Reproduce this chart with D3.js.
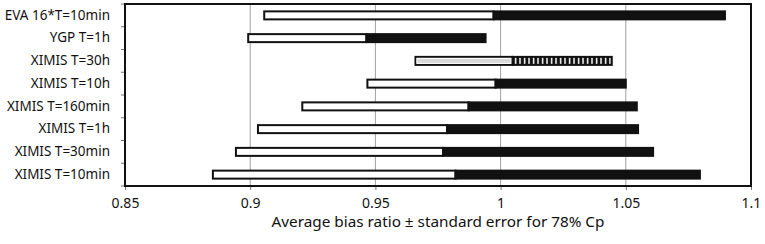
<!DOCTYPE html>
<html>
<head>
<meta charset="utf-8">
<script src="https://cdn.jsdelivr.net/npm/d3@7"></script>
<style>
  body { margin: 0; background: #fff; }
  text { font-family: "Noto Sans", "Open Sans", sans-serif; fill: #111; }
</style>
</head>
<body>
<div id="chart"></div>
<script>
// categories top to bottom
const categories = ["EVA 16*T=10min", "YGP T=1h", "XIMIS T=30h", "XIMIS T=10h",
  "XIMIS T=160min", "XIMIS T=1h", "XIMIS T=30min", "XIMIS T=10min"];
// mean - SE, mean, mean + SE
const lower = [0.9056, 0.8992, 0.9660, 0.9468, 0.9208, 0.9031, 0.8943, 0.8851];
const mean  = [0.9972, 0.9464, 1.0048, 0.9980, 0.9872, 0.9786, 0.9770, 0.9820];
const upper = [1.0896, 0.9940, 1.0444, 1.0500, 1.0544, 1.0549, 1.0609, 1.0796];
const xTicks = [0.85, 0.9, 0.95, 1, 1.05, 1.1];
const hatched = "XIMIS T=30h";

const width = 765, height = 244;
const m = {left: 125, right: 14, top: 4, bottom: 58};

const svg = d3.select("#chart").append("svg")
  .attr("width", width).attr("height", height);

const defs = svg.append("defs");
const pat = defs.append("pattern")
  .attr("id", "hatch").attr("patternUnits", "userSpaceOnUse")
  .attr("width", 4.5).attr("height", 10);
pat.append("rect").attr("width", 4.5).attr("height", 10).attr("fill", "#111");
pat.append("rect").attr("x", 1.8).attr("width", 1.5).attr("height", 10).attr("fill", "#fff");

const x = d3.scaleLinear().domain([0.85, 1.1]).range([m.left, width - m.right]);
const y = d3.scaleBand().domain(categories).range([m.top, height - m.bottom]);

// gridlines
svg.append("g").selectAll("line")
  .data(xTicks.slice(1, -1))
  .join("line")
    .attr("x1", d => x(d)).attr("x2", d => x(d))
    .attr("y1", m.top).attr("y2", height - m.bottom)
    .attr("stroke", "#a0a0a0").attr("stroke-width", 1);

// x axis
const xAxis = svg.append("g")
  .attr("transform", `translate(0,${height - m.bottom})`)
  .call(d3.axisBottom(x).tickValues(xTicks).tickFormat(d3.format("")).tickSize(4).tickPadding(8));
xAxis.select(".domain").remove();
xAxis.selectAll("line").attr("stroke", "#777");
xAxis.selectAll("text").attr("font-size", 14).attr("font-family", null);

// y axis
const yAxis = svg.append("g")
  .attr("transform", `translate(${m.left},0)`)
  .call(d3.axisLeft(y).tickSize(0).tickPadding(15));
yAxis.select(".domain").remove();
yAxis.selectAll("text").attr("font-size", 13.5).attr("font-family", null);

// small y tick marks at band edges
svg.append("g").selectAll("line")
  .data(d3.range(categories.length + 1))
  .join("line")
    .attr("x1", m.left - 4).attr("x2", m.left)
    .attr("y1", i => m.top + i * y.step()).attr("y2", i => m.top + i * y.step())
    .attr("stroke", "#777");

// bars
const bh = 8;
const rows = svg.append("g").selectAll("g")
  .data(categories)
  .join("g")
    .attr("transform", d => `translate(0,${y(d) + y.bandwidth() / 2 - bh / 2})`);

rows.append("rect")
  .attr("x", (d, i) => x(lower[i]))
  .attr("width", (d, i) => x(mean[i]) - x(lower[i]))
  .attr("height", bh)
  .attr("fill", d => d === hatched ? "#d9d9d9" : "#fff")
  .attr("stroke", "#111").attr("stroke-width", 2);

// white inner edge of the grey segment
rows.filter(d => d === hatched).append("rect")
  .attr("x", (d, i) => x(lower[categories.indexOf(d)]) + 1.5)
  .attr("y", 1.5)
  .attr("width", d => x(mean[categories.indexOf(d)]) - x(lower[categories.indexOf(d)]) - 3)
  .attr("height", bh - 3)
  .attr("fill", "none").attr("stroke", "#fff").attr("stroke-width", 1);

rows.append("rect")
  .attr("x", (d, i) => x(mean[i]))
  .attr("width", (d, i) => x(upper[i]) - x(mean[i]))
  .attr("height", bh)
  .attr("fill", d => d === hatched ? "url(#hatch)" : "#111")
  .attr("stroke", "#111").attr("stroke-width", 2);

// plot frame
svg.append("rect")
  .attr("x", m.left).attr("y", m.top)
  .attr("width", width - m.left - m.right).attr("height", height - m.top - m.bottom)
  .attr("fill", "none").attr("stroke", "#111").attr("stroke-width", 2);

// axis title
svg.append("text")
  .attr("x", (m.left + width - m.right) / 2).attr("y", 227)
  .attr("text-anchor", "middle").attr("font-size", 15.3)
  .text("Average bias ratio \u00b1 standard error for 78% Cp");
</script>
</body>
</html>
